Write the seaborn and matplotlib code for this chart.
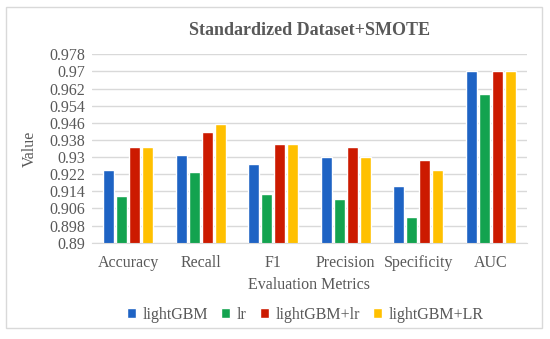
import pandas as pd
import seaborn as sns
import matplotlib.pyplot as plt
from matplotlib.patches import Rectangle

metrics = ["Accuracy", "Recall", "F1", "Precision", "Specificity", "AUC"]
models = ["lightGBM", "lr", "lightGBM+lr", "lightGBM+LR"]

lightgbm = [0.9239, 0.9309, 0.9267, 0.9298, 0.9165, 0.9700]
lr = [0.9117, 0.9229, 0.9126, 0.9106, 0.9019, 0.9594]
lightgbm_lr = [0.9346, 0.9418, 0.9360, 0.9348, 0.9287, 0.9700]
lightgbm_LR = [0.9346, 0.9455, 0.9360, 0.9298, 0.9239, 0.9700]

y_ticks = [0.89, 0.898, 0.906, 0.914, 0.922, 0.93, 0.938, 0.946, 0.954, 0.962, 0.97, 0.978]
y_labels = ["0.89", "0.898", "0.906", "0.914", "0.922", "0.93", "0.938", "0.946",
            "0.954", "0.962", "0.97", "0.978"]

colors = ["#1E63C4", "#13A34F", "#CC1A00", "#FFC000"]
grey = "#595959"

rows = []
for name, vals in zip(models, [lightgbm, lr, lightgbm_lr, lightgbm_LR]):
    for m, v in zip(metrics, vals):
        rows.append({"metric": m, "model": name, "value": v})
df = pd.DataFrame(rows)

sns.set_style("white")
plt.rcParams["font.family"] = ["Liberation Serif", "DejaVu Serif"]

fig = plt.figure(figsize=(5.5, 3.39), dpi=100)
ax = fig.add_axes([92 / 550, 1 - 242.7 / 339, 435 / 550, 188.4 / 339])

sns.barplot(data=df, x="metric", y="value", hue="model", palette=colors,
            width=0.72, gap=0.18, ax=ax, saturation=1)

ax.set_ylim(0.89, 0.978)
ax.set_yticks(y_ticks)
ax.set_yticklabels(y_labels)
ax.grid(axis="y", color="#D9D9D9", linewidth=1)
ax.set_axisbelow(True)
for s in ["top", "right", "left"]:
    ax.spines[s].set_visible(False)
ax.spines["bottom"].set_color("#D9D9D9")
ax.tick_params(axis="both", length=0, labelsize=11.5, colors=grey, pad=5)
ax.tick_params(axis="x", pad=9)

ax.set_xlabel("Evaluation Metrics", fontsize=11.5, color=grey, labelpad=4)
ax.set_ylabel("Value", fontsize=11.5, color=grey, labelpad=8)
ax.set_title("Standardized Dataset+SMOTE", fontsize=13, fontweight="bold",
             color=grey, pad=14)

ax.legend(loc="upper center", bbox_to_anchor=(0.49, -0.265), ncol=4, frameon=False,
          fontsize=11.5, labelcolor=grey, handlelength=0.6, handleheight=0.6,
          handletextpad=0.4, columnspacing=0.8)

fig.patches.append(Rectangle((6 / 550, 1 - 328 / 339), 536 / 550, 321 / 339,
                             transform=fig.transFigure, fill=False,
                             edgecolor="#D9D9D9", linewidth=1))

fig.savefig("out.png", dpi=100)
